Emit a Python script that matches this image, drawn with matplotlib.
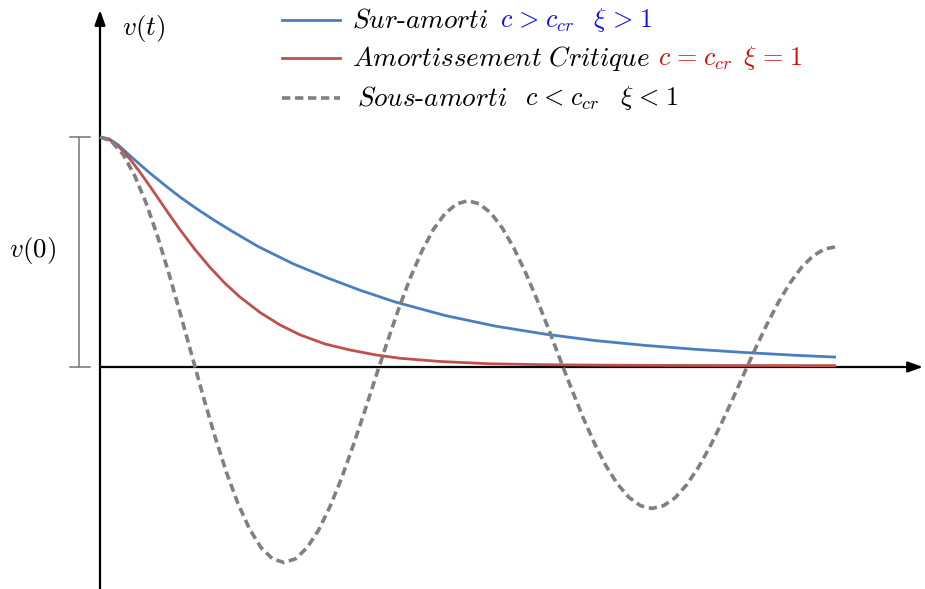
import matplotlib
matplotlib.use("Agg")
import matplotlib.pyplot as plt
import numpy as np

plt.rcParams["mathtext.fontset"] = "cm"
plt.rcParams["font.family"] = ["cmr10", "DejaVu Serif"]

# Over-damped response (xi > 1)
t_over = [0.0, 0.049, 0.098, 0.168, 0.261, 0.353, 0.440, 0.533, 0.625, 0.712,
          0.859, 1.049, 1.234, 1.413, 1.603, 1.875, 2.147, 2.418, 2.690, 2.962,
          3.234, 3.505, 3.777, 4.0]
v_over = [1.000, 0.992, 0.966, 0.915, 0.850, 0.790, 0.736, 0.684, 0.636, 0.593,
          0.524, 0.449, 0.388, 0.334, 0.283, 0.224, 0.178, 0.143, 0.115, 0.094,
          0.077, 0.063, 0.051, 0.043]

# Critically damped response (xi = 1)
t_crit = [0.0, 0.054, 0.109, 0.163, 0.217, 0.272, 0.326, 0.380, 0.435, 0.516,
          0.598, 0.679, 0.761, 0.870, 0.978, 1.087, 1.223, 1.359, 1.495, 1.630,
          1.848, 2.120, 2.418, 2.717, 3.261, 4.0]
v_crit = [1.000, 0.987, 0.952, 0.904, 0.847, 0.785, 0.722, 0.659, 0.597, 0.511,
          0.433, 0.364, 0.304, 0.237, 0.183, 0.140, 0.100, 0.074, 0.053, 0.038,
          0.024, 0.014, 0.010, 0.008, 0.0065, 0.006]

# Under-damped response (xi < 1), sampled every 1/16 of a time unit
t_under = np.linspace(0.0, 4.0, 65)
v_under = [1.000, 0.981, 0.925, 0.834, 0.714, 0.569, 0.405, 0.229,
           0.048, -0.132, -0.303, -0.459, -0.594, -0.704, -0.785, -0.834,
           -0.850, -0.834, -0.786, -0.710, -0.607, -0.484, -0.344, -0.195,
           -0.040, 0.112, 0.257, 0.390, 0.505, 0.599, 0.667, 0.709,
           0.723, 0.709, 0.669, 0.603, 0.516, 0.411, 0.293, 0.166,
           0.034, -0.095, -0.219, -0.332, -0.430, -0.509, -0.567, -0.603,
           -0.615, -0.603, -0.569, -0.513, -0.439, -0.350, -0.249, -0.141,
           -0.029, 0.081, 0.186, 0.282, 0.365, 0.433, 0.483, 0.513,
           0.523]

BLUE = "#4a7ebf"
RED = "#c0504d"
GRAY = "#808080"

W, H = 925, 589
fig = plt.figure(figsize=(W / 100, H / 100), dpi=100)
ax = fig.add_axes([0, 0, 1, 1])
ax.set_axis_off()

# pixel -> data mapping (origin of the axes at pixel (100, 367))
X0, Y0, SX, SY = 100.0, 367.0, 184.0, 230.0


def P(px, py):
    return (px - X0) / SX, (Y0 - py) / SY


ax.set_xlim(P(0, 0)[0], P(W, 0)[0])
ax.set_ylim(P(0, H)[1], P(0, 0)[1])

# axes with arrow heads
arrow = dict(arrowstyle="-|>,head_length=0.9,head_width=0.32", lw=1.6,
             color="black", shrinkA=0, shrinkB=0)
ax.annotate("", xy=P(100, 10), xytext=P(100, H), arrowprops=arrow)
ax.annotate("", xy=P(923, 367), xytext=P(100, 367), arrowprops=arrow)

# curves
ax.plot(t_over, v_over, color=BLUE, lw=2.0, solid_capstyle="butt",
        solid_joinstyle="round", zorder=3)
ax.plot(t_crit, v_crit, color=RED, lw=2.0, solid_capstyle="butt",
        solid_joinstyle="round", zorder=3)
ax.plot(t_under, v_under, color=GRAY, lw=2.6, dashes=(2.3, 1.3),
        dash_joinstyle="round", zorder=4)

# v(0) bracket
bx = P(79, 0)[0]
ax.plot([bx, bx], [0, 1], color=GRAY, lw=1.2)
ax.plot([P(70, 0)[0], P(90, 0)[0]], [1, 1], color=GRAY, lw=1.2)
ax.plot([P(70, 0)[0], P(90, 0)[0]], [0, 0], color=GRAY, lw=1.2)

FS = 19.5
FS_MATH = 18.8
ax.text(*P(33, 250), r"$v(0)$", fontsize=FS, ha="center", va="center")
ax.text(*P(144, 28), r"$v(t)$", fontsize=FS, ha="center", va="center")

S = r"\hspace{0.1}"
# legend
rows = [
    (20, BLUE, "-", r"$\mathit{Sur}$-$\mathit{amorti}$", 352,
     "$c" + S + ">" + S + r"c_{cr}\hspace{0.85}\xi" + S + ">" + S + "1$",
     500, "#1010ee"),
    (58, RED, "-", r"$\mathit{Amortissement\ Critique}$", 352,
     "$c" + S + "=" + S + r"c_{cr}\hspace{0.5}\xi" + S + "=" + S + "1$",
     658, "#cc1010"),
    (98, GRAY, "--", r"$\mathit{Sous}$-$\mathit{amorti}$", 357,
     "$c" + S + "<" + S + r"c_{cr}\hspace{0.92}\xi" + S + "<" + S + "1$",
     525, "black"),
]
for y, col, ls, label, lx, math, mx, mcol in rows:
    xa, ya = P(282, y)
    xb, _ = P(340, y)
    if ls == "--":
        ax.plot([xa, xb], [ya, ya], color=col, lw=2.6, dashes=(2.3, 1.3))
    else:
        ax.plot([xa, xb], [ya, ya], color=col, lw=2.0)
    ax.text(*P(lx, y), label, fontsize=FS, ha="left", va="center", color="black")
    ax.text(*P(mx, y), math, fontsize=FS_MATH, ha="left", va="center", color=mcol)

fig.savefig("out.png", dpi=100)
